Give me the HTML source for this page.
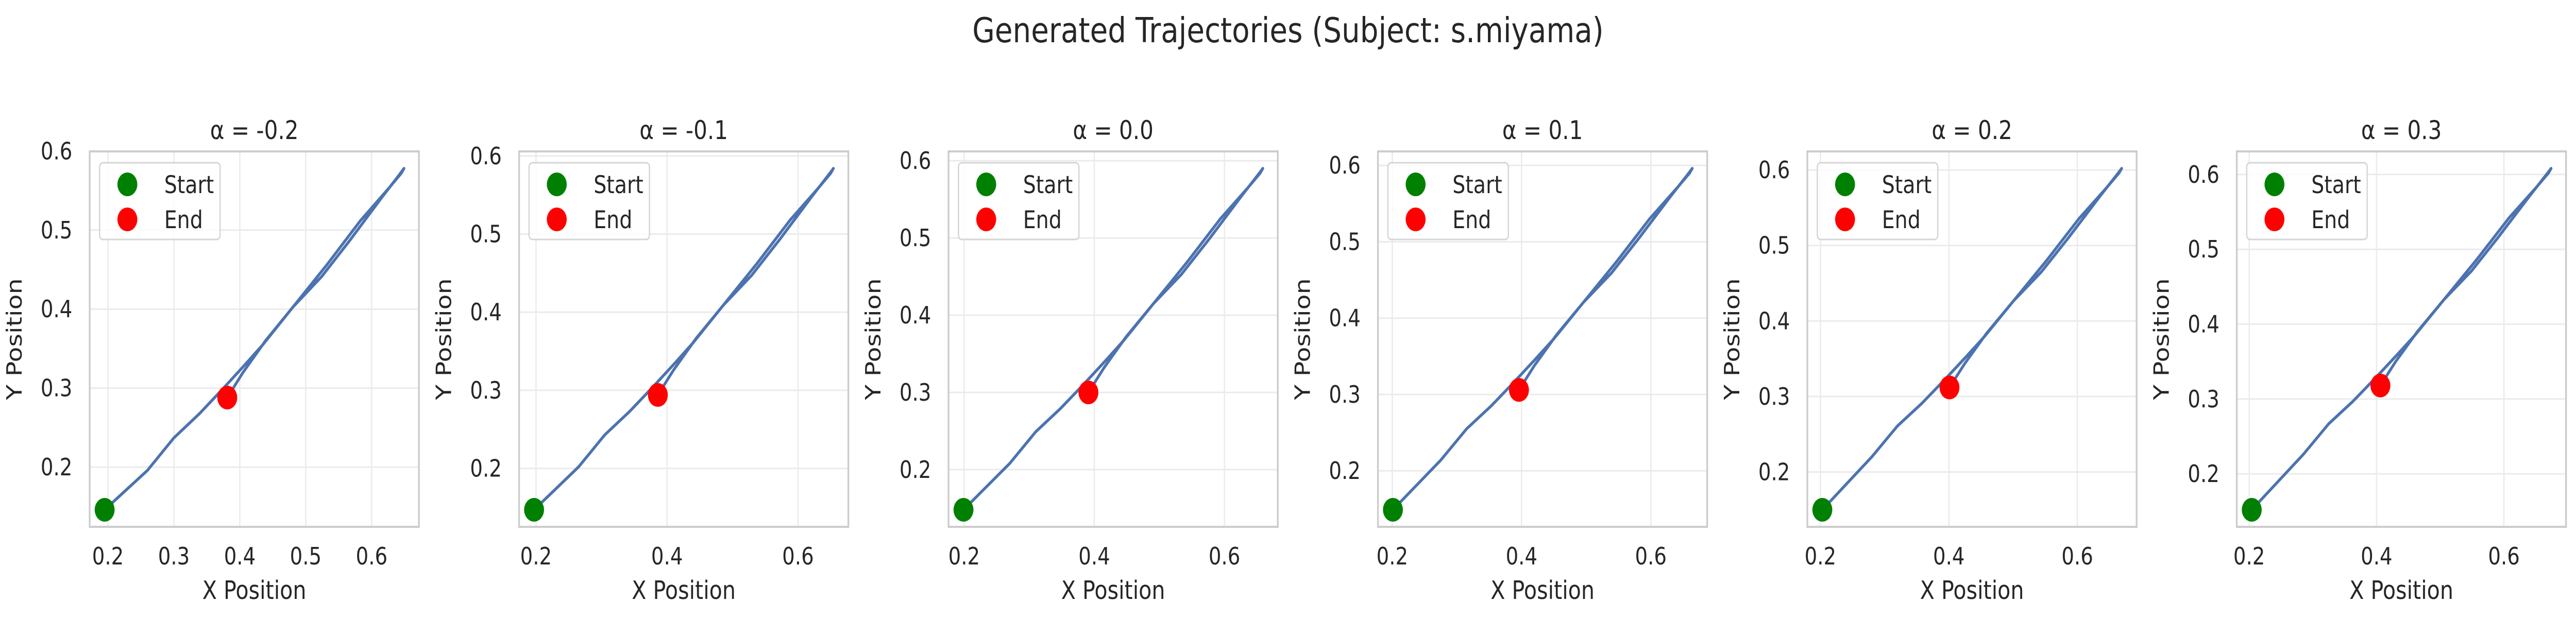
<!DOCTYPE html>
<html><head><meta charset="utf-8">
<style>
html,body{margin:0;padding:0;background:#fff;overflow:hidden;width:100%;height:100%;}
svg{display:block;width:100vw;height:100vh;}
text{font-family:"DejaVu Sans","Liberation Sans",sans-serif;fill:#262626;}
</style></head>
<body>
<svg id="fig" viewBox="0 0 5946 1200" preserveAspectRatio="none" xmlns="http://www.w3.org/2000/svg">
<rect x="0" y="0" width="5946" height="1200" fill="#fff"/>
<text x="2973" y="82" font-size="67" text-anchor="middle">Generated Trajectories (Subject: s.miyama)</text>
</svg>
<script>
const alphas = ["-0.2","-0.1","0.0","0.1","0.2","0.3"];
const xTicks0 = [0.2,0.3,0.4,0.5,0.6];
const xTicksN = [0.2,0.4,0.6];
const yTicks = [0.2,0.3,0.4,0.5,0.6];
const xs_m02 = [0.195,0.260,0.300,0.338,0.372,0.405,0.435,0.481,0.524,0.566,0.616,0.640,0.649,0.645,0.625,0.583,0.532,0.481,0.439,0.405,0.381];
const ys_m02 = [0.146,0.196,0.237,0.267,0.297,0.327,0.355,0.403,0.441,0.486,0.542,0.568,0.578,0.572,0.552,0.512,0.456,0.403,0.360,0.320,0.288];
const xs_m01 = [0.197,0.265,0.305,0.343,0.377,0.410,0.440,0.486,0.529,0.571,0.621,0.645,0.654,0.650,0.630,0.588,0.537,0.486,0.444,0.410,0.386];
const ys_m01 = [0.147,0.202,0.243,0.273,0.303,0.333,0.361,0.409,0.447,0.492,0.548,0.574,0.584,0.578,0.558,0.518,0.462,0.409,0.366,0.326,0.294];
const xs_00 = [0.199,0.270,0.310,0.348,0.382,0.415,0.445,0.491,0.534,0.576,0.626,0.650,0.659,0.655,0.635,0.593,0.542,0.491,0.449,0.415,0.391];
const ys_00 = [0.148,0.208,0.249,0.279,0.309,0.339,0.367,0.415,0.453,0.498,0.554,0.580,0.590,0.584,0.564,0.524,0.468,0.415,0.372,0.332,0.300];
const xs_01 = [0.201,0.275,0.315,0.353,0.387,0.420,0.450,0.496,0.539,0.581,0.631,0.655,0.664,0.660,0.640,0.598,0.547,0.496,0.454,0.420,0.396];
const ys_01 = [0.149,0.214,0.255,0.285,0.315,0.345,0.373,0.421,0.459,0.504,0.560,0.586,0.596,0.590,0.570,0.530,0.474,0.421,0.378,0.338,0.306];
const xs_02 = [0.203,0.280,0.320,0.358,0.392,0.425,0.455,0.501,0.544,0.586,0.636,0.660,0.669,0.665,0.645,0.603,0.552,0.501,0.459,0.425,0.401];
const ys_02 = [0.150,0.220,0.261,0.291,0.321,0.351,0.379,0.427,0.465,0.510,0.566,0.592,0.602,0.596,0.576,0.536,0.480,0.427,0.384,0.344,0.312];
const xs_03 = [0.204,0.285,0.325,0.363,0.397,0.430,0.460,0.506,0.549,0.591,0.641,0.665,0.674,0.670,0.650,0.608,0.557,0.506,0.464,0.430,0.406];
const ys_03 = [0.152,0.226,0.267,0.297,0.327,0.357,0.385,0.433,0.471,0.516,0.572,0.598,0.608,0.602,0.582,0.542,0.486,0.433,0.390,0.350,0.318];

const XS=[xs_m02,xs_m01,xs_00,xs_01,xs_02,xs_03];
const YS=[ys_m02,ys_m01,ys_00,ys_01,ys_02,ys_03];
const NS="http://www.w3.org/2000/svg";
const svg=document.getElementById('fig');
function mk(tag,attrs,parent){const e=document.createElementNS(NS,tag);for(const k in attrs)e.setAttribute(k,attrs[k]);parent.appendChild(e);return e;}
const AX_T=294, AX_B=1023, AX_W=760, AX_L0=207, STEP=991.2;
for(let p=0;p<6;p++){
  const xs=XS[p], ys=YS[p];
  const L=AX_L0+STEP*p, R=L+AX_W;
  let xmin=Math.min(...xs),xmax=Math.max(...xs),ymin=Math.min(...ys),ymax=Math.max(...ys);
  const mx=(xmax-xmin)*0.05,my=(ymax-ymin)*0.05;
  xmin-=mx;xmax+=mx;ymin-=my;ymax+=my;
  const sx=v=>L+(v-xmin)/(xmax-xmin)*AX_W;
  const sy=v=>AX_B-(v-ymin)/(ymax-ymin)*(AX_B-AX_T);
  const g=mk('g',{},svg);
  
  
  const bg=mk('rect',{x:L,y:AX_T,width:AX_W,height:AX_B-AX_T,fill:'#fff'},g);
  
  
  const xt=p===0?xTicks0:xTicksN;
  xt.forEach(t=>{
    const x=sx(t);
    const gl=mk('line',{x1:x,x2:x,y1:AX_T,y2:AX_B,stroke:'#ebebeb','stroke-width':3},g);
    
    
    const tl=mk('text',{x:x,y:AX_B+73,'font-size':46,'text-anchor':'middle'},g);
    tl.textContent=t.toFixed(1);
    
    
  });
  yTicks.forEach(t=>{
    const y=sy(t);
    if(y<AX_T-1||y>AX_B+1)return;
    const gl=mk('line',{x1:L,x2:R,y1:y,y2:y,stroke:'#ebebeb','stroke-width':3},g);
    
    
    const tl=mk('text',{x:L-40,y:y+16,'font-size':46,'text-anchor':'end'},g);
    tl.textContent=t.toFixed(1);
    
    
  });
  const pts=xs.map((v,i)=>sx(v).toFixed(1)+','+sy(ys[i]).toFixed(1)).join(' ');
  const line=mk('polyline',{points:pts,fill:'none',stroke:'#4c72b0','stroke-width':6,'stroke-linejoin':'round','stroke-linecap':'round'},g);
  
  
  const n=xs.length-1;
  const s=mk('circle',{cx:sx(xs[0]),cy:sy(ys[0]),r:23,fill:'#008000'},g);
  
  
  const e=mk('circle',{cx:sx(xs[n]),cy:sy(ys[n]),r:23,fill:'#ff0000'},g);
  
  
  const fr=mk('rect',{x:L,y:AX_T,width:AX_W,height:AX_B-AX_T,fill:'none',stroke:'#cccccc','stroke-width':4},g);
  
  
  const lg=mk('g',{},g);
  
  
  mk('rect',{x:L+23,y:AX_T+22,width:278,height:149,rx:8,fill:'#fff','fill-opacity':0.8,stroke:'#d6d6d6','stroke-width':3},lg);
  const ls=mk('circle',{cx:L+87,cy:AX_T+64,r:23,fill:'#008000'},lg);
  
  
  const lt1=mk('text',{x:L+172,y:AX_T+81,'font-size':47},lg);
  lt1.textContent='Start';
  
  
  const le=mk('circle',{cx:L+87,cy:AX_T+132,r:23,fill:'#ff0000'},lg);
  
  
  const lt2=mk('text',{x:L+172,y:AX_T+149,'font-size':47},lg);
  lt2.textContent='End';
  
  
  const tt=mk('text',{x:L+AX_W/2,y:AX_T-24,'font-size':50,'text-anchor':'middle'},g);
  tt.textContent='α = '+alphas[p];
  
  
  const xl=mk('text',{x:L+AX_W/2,y:1163,'font-size':49,'text-anchor':'middle'},g);
  xl.textContent='X Position';
  
  
  const yx=L-157, yy=(AX_T+AX_B)/2;
  const yl=mk('text',{x:yx,y:yy,'font-size':49,'text-anchor':'middle',transform:'rotate(-90 '+yx+' '+yy+')'},g);
  yl.textContent='Y Position';
  
  
}
</script>
</body></html>
